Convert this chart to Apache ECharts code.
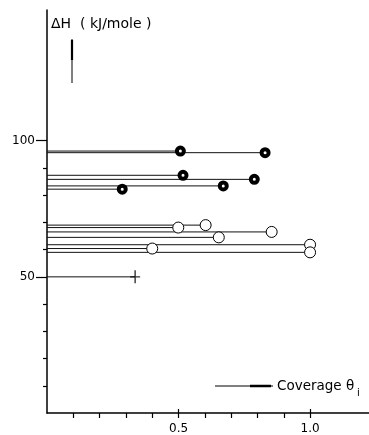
<!DOCTYPE html>
<html><head><meta charset="utf-8">
<script src="https://cdn.jsdelivr.net/npm/echarts@6/dist/echarts.min.js"></script>
<style>html,body{margin:0;padding:0;background:#fff}#c{width:369px;height:435px}</style>
</head><body><div id="c"></div>
<script>
// Filled (thick ring) points: coverage, ΔH
const filledX = [0.507, 0.829, 0.517, 0.788, 0.670, 0.286];
const filledY = [96.2, 95.6, 87.3, 85.8, 83.4, 82.2];
// Open circle points
const openX = [0.499, 0.603, 0.854, 0.653, 0.400, 1.0, 1.0];
const openY = [68.1, 69.0, 66.5, 64.5, 60.4, 61.8, 59.0];
// Cross point
const crossX = [0.335];
const crossY = [50];
// Ticks and labels
const yMajorTicks = [50, 100];
const yMinorTicks = [10, 20, 30, 40, 60, 70, 80, 90];
const xMajorTicks = [0.5, 1.0];
const xMinorTicks = [0.1, 0.2, 0.3, 0.4, 0.5, 0.6, 0.7, 0.8, 0.9, 1.0];

const font = 'DejaVu Sans';
const series = [];
function addLines(xs, ys) {
  xs.forEach((x, i) => {
    series.push({
      type: 'line', data: [[0, ys[i]], [x, ys[i]]], symbol: 'none',
      lineStyle: { color: '#111', width: 1 }, silent: true, animation: false, z: 2
    });
  });
}
addLines(filledX, filledY);
addLines(openX, openY);
addLines(crossX, crossY);
series.push({
  type: 'scatter', data: filledX.map((x, i) => [x, filledY[i]]), symbol: 'circle', symbolSize: 7,
  itemStyle: { color: '#fff', borderColor: '#000', borderWidth: 4, opacity: 1 }, z: 5, animation: false
});
series.push({
  type: 'scatter', data: openX.map((x, i) => [x, openY[i]]), symbol: 'circle', symbolSize: 11,
  itemStyle: { color: '#fff', borderColor: '#000', borderWidth: 1, opacity: 1 }, z: 5, animation: false
});
series.push({
  type: 'scatter', data: crossX.map((x, i) => [x, crossY[i]]),
  symbol: 'path://M4.3,0h1.4v13h-1.4zM0,5.8h10v1.4h-10z', symbolSize: [10, 13],
  itemStyle: { color: '#000' }, z: 5, animation: false
});

const XMAX = 1.224, YMAX = 148;
const tickStyle = { color: '#000', width: 1.2 };
const chart = echarts.init(document.getElementById('c'));
chart.setOption({
  animation: false,
  grid: { left: 47, right: 0, top: 10, bottom: 20, containLabel: false },
  xAxis: [{
    type: 'value', min: 0, max: XMAX, position: 'bottom',
    axisLine: { lineStyle: { color: '#000', width: 1.5 } },
    axisTick: { customValues: xMinorTicks, length: 5, lineStyle: tickStyle },
    splitLine: { show: false },
    axisLabel: {
      customValues: xMajorTicks, margin: 10, color: '#000', fontFamily: font, fontSize: 12,
      formatter: v => v.toFixed(1)
    }
  }, {
    type: 'value', min: 0, max: XMAX, position: 'bottom',
    axisLine: { show: false },
    axisTick: { customValues: xMajorTicks, inside: true, length: 4, lineStyle: tickStyle },
    splitLine: { show: false }, axisLabel: { show: false }
  }],
  yAxis: [{
    type: 'value', min: 0, max: YMAX, position: 'left',
    axisLine: { lineStyle: { color: '#000', width: 1.5 } },
    axisTick: { customValues: yMajorTicks, length: 11, lineStyle: tickStyle },
    splitLine: { show: false },
    axisLabel: {
      customValues: yMajorTicks, margin: 12, color: '#000', fontFamily: font, fontSize: 12,
      formatter: v => String(v)
    }
  }, {
    type: 'value', min: 0, max: YMAX, position: 'left',
    axisLine: { show: false },
    axisTick: { customValues: yMinorTicks, length: 4, lineStyle: tickStyle },
    splitLine: { show: false }, axisLabel: { show: false }
  }],
  graphic: [
    { type: 'text', left: 51, top: 17, style: { text: 'ΔH  ( kJ/mole )', font: '14px "DejaVu Sans"', fill: '#000' } },
    { type: 'line', shape: { x1: 72, y1: 39, x2: 72, y2: 83 }, style: { stroke: '#000', lineWidth: 1 } },
    { type: 'line', shape: { x1: 72, y1: 40, x2: 72, y2: 60 }, style: { stroke: '#000', lineWidth: 2.2 } },
    { type: 'line', shape: { x1: 215, y1: 386, x2: 273, y2: 386 }, style: { stroke: '#000', lineWidth: 1 } },
    { type: 'line', shape: { x1: 250, y1: 386, x2: 271, y2: 386 }, style: { stroke: '#000', lineWidth: 2.5 } },
    { type: 'text', left: 277, top: 379, style: { text: 'Coverage θ', font: '13.5px "DejaVu Sans"', fill: '#000' } },
    { type: 'text', left: 357, top: 388, style: { text: 'i', font: '10px "DejaVu Sans"', fill: '#000' } }
  ],
  series: series
});
</script></body></html>
